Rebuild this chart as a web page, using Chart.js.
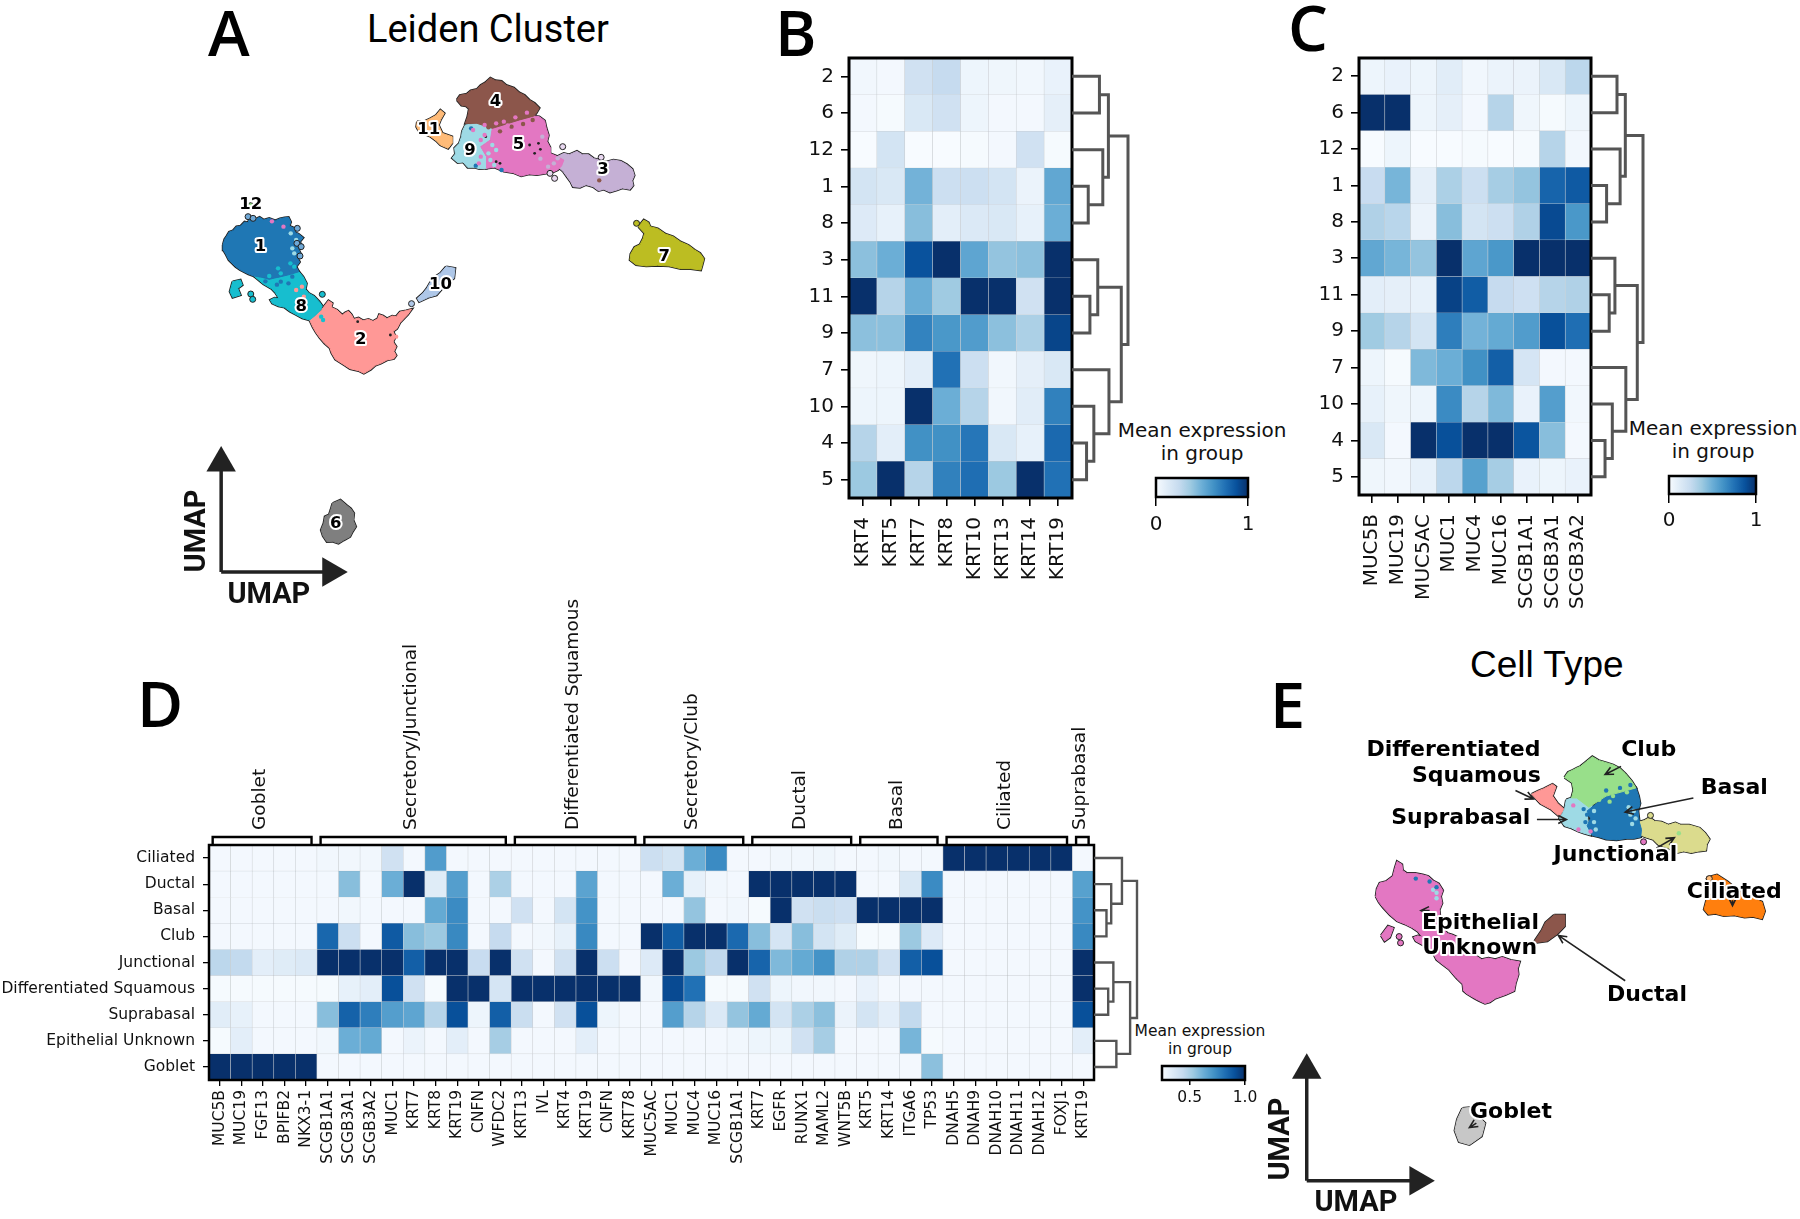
<!DOCTYPE html>
<html>
<head>
<meta charset="utf-8">
<title>Leiden clusters and cell types</title>
<script src="https://cdn.jsdelivr.net/npm/chart.js@4"></script>
<style>
  html, body { margin: 0; background: #fff; }
  #page { position: relative; width: 1800px; height: 1219px; overflow: hidden; background: #fff; }
  #page canvas { position: absolute; }
  .letter { position: absolute; font: 600 63px/63px "Open Sans"; color: #000; }
  .title { position: absolute; color: #000; white-space: nowrap; }
  .cbar { position: absolute; text-align: center; font-family: "DejaVu Sans"; color: #111; white-space: nowrap; transform: translateX(-50%); }
</style>
</head>
<body>
<div id="page">
  <div class="letter" style="left:208px;top:0px">A</div>
  <div class="letter" style="left:775px;top:0px">B</div>
  <div class="letter" style="left:1288px;top:-5px">C</div>
  <div class="letter" style="left:137px;top:671px">D</div>
  <div class="letter" style="left:1270px;top:672px">E</div>
  <div class="title" style="left:367px;top:7px;font:400 38px/44px Roboto">Leiden Cluster</div>
  <div class="title" style="left:1470px;top:643px;font:400 37px/44px 'Liberation Sans'">Cell Type</div>
  <div class="cbar" style="left:1202px;top:419px;font-size:20px;line-height:23px">Mean expression<br>in group</div>
  <div class="cbar" style="left:1713px;top:417px;font-size:20px;line-height:23px">Mean expression<br>in group</div>
  <div class="cbar" style="left:1200px;top:1022px;font-size:15.5px;line-height:18px">Mean expression<br>in group</div>
</div>
<script>
// --- panels B and C
const clusterRows = ["2", "6", "12", "1", "8", "3", "11", "9", "7", "10", "4", "5"];
const krtGenes = ["KRT4", "KRT5", "KRT7", "KRT8", "KRT10", "KRT13", "KRT14", "KRT19"];
const krtValues = [
  [.03, .02, .2, .25, .05, .04, .03, .07],
  [.02, .01, .15, .2, .05, .02, .02, .09],
  [0, .18, 0, 0, .01, .02, .2, .01],
  [.18, .15, .48, .22, .22, .18, .06, .53],
  [.13, .08, .43, .1, .14, .15, .08, .5],
  [.42, .5, .87, 1, .54, .4, .42, 1],
  [1, .3, .5, .37, 1, 1, .2, 1],
  [.42, .42, .68, .6, .58, .42, .33, .92],
  [.04, .05, .1, .75, .22, .03, .09, .15],
  [.05, .05, 1, .5, .3, .03, .11, .69],
  [.3, .1, .63, .63, .73, .15, .08, .78],
  [.38, 1, .3, .69, .76, .38, 1, .75]
];
const mucGenes = ["MUC5B", "MUC19", "MUC5AC", "MUC1", "MUC4", "MUC16", "SCGB1A1", "SCGB3A1", "SCGB3A2"];
const mucValues = [
  [.05, .07, .05, .11, .03, .06, .06, .15, .28],
  [1, 1, .05, .09, .02, .3, .04, .01, .05],
  [0, .05, 0, 0, .01, 0, .01, .3, .03],
  [.24, .47, .09, .33, .22, .35, .4, .8, .84],
  [.32, .29, .06, .43, .18, .22, .32, .9, .6],
  [.53, .47, .4, 1, .54, .6, 1, 1, 1],
  [.1, .09, .08, .93, .83, .25, .21, .3, .32],
  [.37, .3, .18, .7, .48, .52, .58, .88, .76],
  [.05, .01, .45, .5, .63, .82, .17, .02, .02],
  [.08, .04, .05, .65, .3, .45, .07, .57, .03],
  [.15, .02, 1, .88, 1, 1, .86, .43, .02],
  [.04, .03, .08, .28, .56, .35, .07, .05, .07]
];
// dendrograms: [child, child, height], leaves are row numbers, new nodes count on from there
const krtDendro = [[0, 1, .49], [3, 4, .29], [2, 13, .55], [12, 14, .65], [6, 7, .32], [5, 16, .46], [10, 11, .26], [9, 18, .39], [8, 19, .66], [17, 20, .88], [15, 21, 1]];
const mucDendro = [[0, 1, .5], [3, 4, .3], [2, 13, .56], [12, 14, .66], [6, 7, .35], [5, 16, .46], [10, 11, .27], [9, 18, .41], [8, 19, .67], [17, 20, .89], [15, 21, 1]];

// --- panel D
const cellTypes = ["Ciliated", "Ductal", "Basal", "Club", "Junctional", "Differentiated Squamous", "Suprabasal", "Epithelial Unknown", "Goblet"];
const markerGenes = ["MUC5B", "MUC19", "FGF13", "BPIFB2", "NKX3-1",
  "SCGB1A1", "SCGB3A1", "SCGB3A2", "MUC1", "KRT7", "KRT8", "KRT19", "CNFN", "WFDC2",
  "KRT13", "IVL", "KRT4", "KRT19", "CNFN", "KRT78",
  "MUC5AC", "MUC1", "MUC4", "MUC16", "SCGB1A1",
  "KRT7", "EGFR", "RUNX1", "MAML2", "WNT5B",
  "KRT5", "KRT14", "ITGA6", "TP53",
  "DNAH5", "DNAH9", "DNAH10", "DNAH11", "DNAH12", "FOXJ1",
  "KRT19"];
const markerGroups = ["Goblet", "Secretory/Junctional", "Differentiated Squamous", "Secretory/Club", "Ductal", "Basal", "Ciliated", "Suprabasal"];
const markerGroupSizes = [5, 9, 6, 5, 5, 4, 6, 1];
const markerValues = [
  [.02, .02, .02, .02, .02, .03, .03, .03, .2, .02, .58, .02, .02, .02, .02, .02, .02, .02, .02, .02, .22, .18, .5, .65, .02, .02, .03, .03, .04, .02, .02, .03, .02, .02, 1, 1, 1, 1, 1, 1, .02],
  [.02, .02, .02, .02, .02, .02, .43, .02, .5, 1, .12, .57, .02, .33, .02, .02, .02, .55, .02, .02, .02, .5, .08, .03, .02, 1, 1, 1, 1, 1, .02, .02, .15, .65, .02, .02, .02, .02, .02, .02, .56],
  [.02, .02, .02, .02, .02, .02, .03, .02, .02, .02, .52, .65, .02, .02, .2, .02, .18, .62, .02, .02, .02, .02, .4, .02, .03, .01, 1, .2, .23, .21, 1, 1, 1, 1, .02, .02, .02, .02, .02, .02, .62],
  [.02, .02, .02, .02, .02, .79, .22, .02, .84, .43, .38, .66, .02, .25, .02, .03, .08, .66, .02, .02, 1, .83, 1, 1, .78, .43, .17, .43, .18, .12, .01, .01, .38, .13, .02, .02, .02, .02, .02, .02, .66],
  [.28, .26, .1, .12, .14, 1, 1, 1, 1, .82, 1, 1, .24, 1, .2, .02, .2, 1, .22, .02, .13, 1, .38, .27, 1, .8, .45, .52, .62, .32, .32, .2, .82, .88, .02, .02, .02, .02, .02, .02, 1],
  [.01, .01, .01, .01, .01, .01, .08, .1, .88, .2, .01, 1, 1, .17, 1, 1, 1, 1, 1, 1, .03, .9, .75, .01, .01, .2, .05, .03, .03, .02, .07, .02, .02, .02, .02, .02, .02, .02, .02, .02, 1],
  [.11, .08, .02, .02, .02, .43, .81, .7, .57, .54, .3, .88, .05, .82, .23, .02, .2, .88, .05, .02, .02, .57, .3, .14, .4, .52, .18, .33, .42, .06, .18, .1, .26, .02, .02, .02, .02, .02, .02, .02, .88],
  [.01, .1, .02, .02, .02, .03, .5, .52, .02, .06, .02, .1, .02, .35, .02, .02, .02, .1, .02, .02, .02, .02, .02, .02, .03, .05, .05, .2, .35, .02, .02, .02, .47, .01, .02, .02, .02, .02, .02, .02, .1],
  [1, 1, 1, 1, 1, .02, .02, .02, .02, .02, .02, .02, .02, .02, .02, .02, .02, .02, .02, .02, .02, .02, .02, .02, .02, .02, .02, .02, .02, .02, .02, .02, .02, .42, .02, .02, .02, .02, .02, .02, .02]
];
const markerDendro = [[2, 3, .29], [1, 9, .4], [0, 10, .65], [5, 6, .33], [4, 12, .45], [7, 8, .52], [13, 14, .84], [11, 15, 1]];

// --- panel A, UMAP outlines
const cluster1 = [[19, 73.5], [19.4, 71.8], [20, 70.8], [20.6, 69.6], [21.6, 69.2], [22.5, 68], [23.6, 67.8], [24.6, 66.6], [25.5, 66.8], [26, 65.2], [27.3, 65.8], [28.5, 65.2], [29.6, 66], [31, 65.5], [32.6, 66.2], [33.8, 65.6], [35, 65.3], [36, 65.2], [36.6, 66.6], [36.2, 67.8], [37.4, 68.4], [37.8, 69.8], [38.6, 70.2], [39.8, 71.3], [38.9, 72.6], [39.5, 73.7], [38.6, 74.8], [39.2, 76.2], [38.3, 77.4], [38.9, 78.6], [38, 80], [38.7, 81.5], [36.5, 82.3], [34, 83], [32.4, 83.4], [31, 83.8], [29.2, 83.2], [27, 82.8], [25.6, 82.2], [23.5, 81], [22.3, 80], [20.5, 78], [19.8, 76.4], [19.1, 75]];
const cluster8a = [[27, 82.8], [31, 83.8], [34, 83], [38.7, 81.5], [39.8, 83], [40.7, 85], [40.4, 86.8], [41.3, 88], [42.6, 88.8], [44, 90.5], [44.8, 91.8], [44.4, 93], [43, 94.6], [41.5, 96], [39.6, 95.4], [38, 94.4], [36.4, 93.4], [35, 92.2], [33.4, 91.8], [31.8, 91], [31.3, 90], [32.4, 89.4], [33.6, 89.6], [32.6, 87.8], [31.6, 86.6], [29.5, 85.2]];
const cluster8b = [[21.5, 84.5], [23.5, 84], [24, 85.5], [22.8, 86.5], [23.5, 88.5], [21.5, 89.2], [20.8, 87.5]];
const cluster2 = [[41.5, 96], [43, 94.6], [44.6, 93], [45.6, 91.4], [46.4, 90.2], [47.4, 91], [47.1, 92.2], [48.6, 93], [50, 94.5], [50.8, 93.8], [51.6, 93.4], [52.4, 94.4], [53, 95.8], [54.2, 95.4], [55.4, 96.2], [56.8, 95.8], [58, 96.4], [59.2, 95.6], [59.6, 94.4], [60.6, 94.8], [61.6, 95.6], [63, 94.8], [64, 95], [65, 93.6], [66.6, 93.2], [68, 92.8], [67, 94.4], [66, 95.6], [65, 96.8], [64.2, 98.6], [63.2, 99.4], [63.8, 101], [63.2, 102.6], [64, 104], [63.4, 105.4], [64, 106.6], [63.4, 107.6], [61.6, 108], [60, 109], [58.6, 109.6], [57.4, 110.8], [55.6, 112], [54.2, 111.2], [52, 110.6], [50.4, 109.4], [48.2, 107.8], [47.2, 105.8], [46.8, 104.4], [45.4, 103], [44.2, 101.4], [43.2, 99.8], [42.4, 98.2]];
const cluster10 = [[77, 80], [79.3, 80.5], [79, 83.5], [77.6, 84.6], [76, 86.5], [74.5, 88.5], [72.4, 89.2], [70, 90.5], [69.5, 89.5], [71, 88], [72, 86.5], [73.5, 83.5], [75.5, 82]];
const cluster4 = [[79.8, 30], [80.6, 28.6], [82.4, 28.2], [83.4, 27.2], [85, 26.8], [86, 25.6], [87.2, 24.8], [88.5, 23.4], [89.8, 24.2], [91.4, 24.4], [92.6, 25.6], [94.6, 26.4], [96, 27.8], [97.4, 28.6], [98.6, 30], [100, 31], [101.2, 32.4], [100.4, 34], [99.8, 34.8], [96, 36], [89, 38.5], [85, 37], [82, 37], [82.6, 35], [83, 32.6], [82.2, 31.8], [81, 31.6]];
const cluster5 = [[89, 38.5], [96, 36], [99.8, 34.8], [101.2, 35], [102.6, 36.2], [103, 38.4], [103.6, 40.6], [103.2, 42.4], [104, 44.2], [104, 46], [105.6, 46.8], [107.6, 48], [107, 49.8], [106, 51], [104.8, 51.6], [103, 52], [100.6, 52.4], [98.6, 52.2], [96.5, 52.8], [94.4, 51.8], [92, 51.4], [89.6, 50.2], [87.5, 50.5], [87.5, 47], [86, 44], [88.5, 42]];
const cluster9 = [[82, 37.5], [85, 37], [89, 38.5], [88.5, 42], [86, 44], [87.5, 47], [87.5, 50.5], [85.6, 50.6], [84.4, 50.2], [82.6, 50.2], [81.4, 48.6], [80, 48.8], [78.6, 47.4], [79.4, 46.2], [79.2, 44.4], [80.4, 43], [81, 41], [81.2, 39.4]];
const cluster11 = [[69.5, 36.5], [71.4, 36.4], [73, 35.5], [74.4, 34.6], [75.5, 33], [76.5, 34], [75.6, 35.8], [75, 37.5], [76, 40], [78.5, 41], [78.5, 43], [77.5, 44.5], [75.5, 43.5], [74.4, 42.2], [73, 41], [70, 39.5], [69.3, 38]];
const cluster3 = [[104, 46.5], [105.8, 47], [107.6, 46], [109, 46.4], [111, 45.4], [112.4, 46.4], [114, 46.4], [115.4, 47.6], [117, 48], [118.6, 48.6], [120.5, 48], [122.4, 48.4], [124, 49.4], [125.4, 50.8], [125.9, 52.6], [125.3, 54.2], [125.6, 55.6], [124.8, 56.8], [122.8, 56.4], [121.4, 57], [119.6, 57.6], [118, 56.8], [116.6, 57.2], [115.2, 56], [113.4, 55.4], [111.8, 56.2], [110, 56], [109.4, 54.6], [108.4, 53], [107.4, 51.4], [106, 50]];
const cluster7 = [[127, 68], [128.4, 66], [129.6, 66.8], [130, 68], [132, 68.6], [134, 70.2], [136, 71], [138, 72.6], [140, 73.6], [141.6, 75], [143, 76], [144, 77.6], [143.6, 79.4], [143.2, 81], [140.6, 80.6], [138, 80.6], [135, 79.8], [132, 79.6], [129, 79.8], [126.4, 79.4], [124.8, 78], [125, 76.2], [126, 74.2], [127.4, 73.4], [128.2, 71.6], [128.6, 70]];
const cluster6 = [[47.5, 151], [49.5, 150], [51, 151.5], [52.2, 152.6], [53, 154], [52.8, 156], [53.5, 158], [52.6, 159.6], [52, 161], [50.4, 162], [49, 163], [47.4, 162.4], [46, 162.5], [45, 160.8], [44.5, 159], [45.2, 157], [45.5, 155], [46.6, 154.4], [47, 153]];
const cluster1Dots = [[25.5, 65], [26.8, 65.5], [38.2, 73], [39.3, 74], [39, 76.8], [38.3, 68.5]];
const cluster8Dots = [[26.2, 88.2], [26.7, 89.8], [44.8, 88.3]];
const cluster10Dots = [[68, 91.1]];
const cluster3Dots = [[107.3, 44], [117.3, 47.2], [105.2, 53.5], [104, 52]];
const cluster12Dots = [[26.2, 61.7]];
const cluster7Dots = [[126.5, 67]];
// stray cells that sit in a neighbouring cluster
const pinkStrays = [[90, 37], [92, 36.5], [95, 35.2], [98, 33.8], [93, 37.6], [87, 37.5], [86, 47], [86, 42], [85.5, 49], [87, 40.5], [84, 39], [31.7, 66.4], [34.7, 68]];
const brownStrays = [[91, 39.4], [94, 38], [97, 37.2], [99.5, 36], [116.8, 54.1], [88, 38.2]];
const paleBlueStrays = [[88, 46], [89, 43.5], [88.5, 48], [90, 45], [89.5, 49.5], [38, 72], [37.5, 76], [37, 74.5], [36.6, 70]];
const blueStrays = [[83.5, 38.5], [84.7, 49.7], [91.4, 51], [30, 84.4], [34, 84.5], [37, 83], [33, 85.4], [36, 85]];
const tealStrays = [[34, 82], [31, 82.8], [37.5, 80], [36.5, 79], [33.3, 80.5], [44.5, 95], [45, 96]];
const salmonStrays = [[39.5, 86], [40, 89], [38, 87], [64, 101]];
const lilacStrays = [[105, 49], [106, 47.5], [103.5, 50], [101.5, 47.6], [102, 41]];
const holes = [[98.7, 43.5], [101, 43], [100, 46], [101.5, 44.8], [91, 49], [90, 48.5], [87.3, 41], [62.5, 100.5], [54, 96.5]];
const leidenLabels = ["1", "2", "3", "4", "5", "6", "7", "8", "9", "10", "11", "12"];
const leidenLabelPos = [[28.7, 74], [54.8, 102], [117.8, 50.8], [89.8, 30.5], [95.8, 43.3], [48.3, 157], [133.7, 77], [39.3, 92], [83.2, 45.2], [75.5, 85.5], [72.5, 39], [26.2, 61.5]];

// --- panel E
const clubShape = [[88, 37], [89, 35.6], [90.4, 35], [91.6, 34.4], [92.6, 34], [94.4, 32.6], [96, 31.4], [97.8, 32.4], [100, 33], [102, 33.6], [104, 34.6], [105.6, 36], [107.4, 38], [108.6, 39.8], [104, 41], [100, 42], [95, 45], [91.5, 42.5], [90, 42.5], [90.6, 40.4], [90.2, 38.4]];
const basalShape = [[94.5, 46], [100, 42], [104, 41], [108.6, 39.8], [109.4, 42], [109.8, 44], [109.2, 46], [109.6, 49], [110.2, 51], [110, 53], [108, 53.4], [106, 53.4], [103, 53.8], [100, 53.6], [98, 53], [96, 52.6], [94.5, 50], [95.5, 48]];
const suprabasalShape = [[88.5, 43], [91.5, 42], [94.5, 44], [96, 44.5], [94.5, 47], [95, 50], [95.5, 52.5], [93.6, 52], [92, 51.5], [90, 50.6], [88, 50], [86.5, 48], [87.4, 46.6], [88, 45.5]];
const squamousShape = [[78.5, 41.5], [80.4, 40.6], [82, 40], [84.5, 38.8], [85.5, 39.5], [84.5, 42], [86, 44], [87.8, 45.5], [86.5, 47.5], [84, 45.5], [81, 44]];
const junctionalShape = [[109.5, 49], [111, 48.6], [112.5, 47.8], [114, 48.8], [116, 49], [118, 49.8], [120, 49.2], [121.5, 49.8], [124, 49.8], [127, 50.6], [128.6, 52], [129.8, 53.6], [129, 55], [128.8, 56.6], [126.8, 56.8], [124.6, 57.2], [122.4, 56.8], [120.5, 57.2], [118, 56], [115, 55], [113.5, 53.6], [111.4, 53], [110, 52.5]];
const ciliatedShape = [[129, 64], [132, 63.2], [135, 65], [139, 68], [145, 70.5], [145.8, 73], [145, 75], [142.4, 74.4], [140, 74.6], [137, 74], [134, 74.2], [131.6, 73.6], [129.5, 73.8], [128.3, 72.5], [129, 70], [131, 68], [130, 66]];
const epithelialShape = [[33.5, 69], [33.8, 67], [34.6, 65.4], [36.4, 65], [38.4, 63.6], [39, 61.4], [39.6, 59.6], [41, 60.4], [41.2, 62], [42.4, 62.8], [44.8, 62.8], [47, 63.2], [48.6, 63.6], [50, 64.8], [51.6, 65.6], [52.8, 67.4], [52.2, 69], [52.6, 70.8], [51.8, 72.6], [52, 74.4], [52, 76], [53, 77.8], [54.2, 79], [55.6, 79.4], [57, 80], [58, 81.6], [59, 83], [61.4, 84.4], [64, 86], [66, 85.6], [68, 86], [70, 85.4], [72.4, 86.2], [75, 86.6], [74.4, 88.4], [74.6, 90], [73.8, 92.4], [73.4, 94.4], [71, 95.4], [68, 96.4], [66.4, 97.4], [65, 97.8], [63.2, 97], [62, 96.4], [59.8, 95.2], [58.8, 94.4], [58.6, 92.6], [56.8, 91], [54.6, 88.6], [52.6, 87.2], [51, 86], [50, 84.2], [49, 83], [47, 82], [45, 81], [44.4, 80], [45.6, 79.6], [47, 80], [45.6, 78.4], [44, 77.4], [41.8, 76.4], [39.6, 75.6], [37.6, 74], [35.6, 72], [34.4, 70.6]];
const epithelialBlob = [[35, 79.5], [37, 77], [38.5, 77.5], [37.5, 80], [36, 81]];
const ductalShape = [[85, 74], [88, 74], [88, 77], [86, 79], [83, 81], [79, 81.5], [81.5, 78], [82.5, 76]];
const gobletShape = [[58.5, 126], [60.5, 125.8], [65, 130], [64, 133.5], [60.5, 135.8], [57.5, 135], [56.3, 132], [57, 129]];
const epithelialDots = [[40.2, 79.8], [40.6, 81.5]];
const ciliatedDots = [[129.8, 64.2]];
const junctionalDots = [[112.8, 47.2]];
const basalDots = [[110.8, 54.3]];
const typeBlueStrays = [[94.5, 47], [94, 49], [93.5, 45.5], [100, 40.5], [104, 39.8], [107, 39], [49, 65], [45, 64.2], [51, 66.5]];
const typeGreenStrays = [[98, 43], [102, 42], [106, 41], [101, 43.5], [121, 52]];
const typePaleStrays = [[96.5, 46], [96.5, 49], [97, 51], [107, 47], [108, 46], [108.5, 48], [107.5, 49.5], [106.5, 45], [51, 68], [51, 69.5], [50, 67.2]];
const typePinkStrays = [[90.5, 44.5], [92, 51], [95.5, 51.5]];
const cellTypeLabels = ["Differentiated", "Squamous", "Club", "Basal", "Suprabasal", "Junctional", "Ciliated", "Epithelial", "Unknown", "Ductal", "Goblet"];
const cellTypeLabelPos = [[55.9, 29.7], [62.5, 36.6], [112.3, 29.8], [137, 39.8], [58, 48], [102.7, 58], [137, 68], [63.7, 76.3], [63.5, 83], [111.8, 95.5], [72.5, 127.2]];
// pointer lines: [fromX, fromY, toX, toY]
const cellTypePointers = [[104.3, 34, 99.7, 36.2], [125.2, 42.5, 105.5, 46.3], [73.8, 40.5, 79, 42.8], [80, 48.3, 88.5, 48.3], [114.5, 56, 119.7, 53.2], [136.5, 70, 136.5, 71.5], [49, 72.8, 46.5, 72.8], [105.5, 91.7, 86.2, 79.5], [62.5, 130, 60.5, 131.2]];

const bluesStops = ["#f7fbff", "#deebf7", "#c6dbef", "#9ecae1", "#6baed6", "#4292c6", "#2171b5", "#08519c", "#08306b"];

Chart.defaults.font.family = "'DejaVu Sans'";
Chart.defaults.color = "#111";
Chart.defaults.animation = false;
Chart.defaults.responsive = false;
Chart.defaults.layout.autoPadding = false;
Chart.defaults.plugins.legend.display = false;
Chart.defaults.plugins.tooltip.enabled = false;

function blues(v) {
  const p = Math.min(Math.max(v, 0), 1) * (bluesStops.length - 1);
  const i = Math.min(Math.floor(p), bluesStops.length - 2);
  const c = s => [1, 3, 5].map(k => parseInt(s.substr(k, 2), 16));
  const a = c(bluesStops[i]), b = c(bluesStops[i + 1]);
  return "rgb(" + a.map((x, k) => Math.round(x + (b[k] - x) * (p - i))).join(",") + ")";
}

function addCanvas(left, top, width, height) {
  const cv = document.createElement("canvas");
  cv.width = width;
  cv.height = height;
  cv.style.left = left + "px";
  cv.style.top = top + "px";
  document.getElementById("page").appendChild(cv);
  return cv;
}

const framePlugin = width => ({
  id: "frame",
  afterDraw(chart) {
    const a = chart.chartArea, ctx = chart.ctx;
    ctx.save();
    ctx.strokeStyle = "#000";
    ctx.lineWidth = width;
    ctx.strokeRect(a.left, a.top, a.right - a.left, a.bottom - a.top);
    ctx.restore();
  }
});

// box = reference pixels of the plot frame, extra plugins get added on
function heatmap(box, padLeft, padTop, padBottom, rows, cols, values, fonts, plugins) {
  const padRight = 6;
  const cv = addCanvas(box.left - padLeft, box.top - padTop, box.right - box.left + padLeft + padRight, box.bottom - box.top + padTop + padBottom);
  return new Chart(cv, {
    type: "bar",
    data: {
      labels: cols,
      datasets: rows.map((r, i) => ({
        label: r,
        data: values[i].map(() => 1),
        backgroundColor: values[i].map(blues),
        borderColor: "rgba(120,130,140,0.28)",
        borderWidth: 0.6,
        barPercentage: 1,
        categoryPercentage: 1
      }))
    },
    options: {
      layout: { padding: { left: 0, right: padRight, top: padTop, bottom: 0 } },
      scales: {
        x: {
          stacked: true,
          grid: { offset: false, drawOnChartArea: false, color: "#000", lineWidth: fonts.tick, tickLength: fonts.tickLen },
          border: { display: false },
          ticks: { autoSkip: false, minRotation: 90, maxRotation: 90, padding: fonts.xPad, font: { size: fonts.x } },
          afterFit(s) { s.height = padBottom; s.paddingLeft = 0; s.paddingRight = 0; }
        },
        y: {
          stacked: true, reverse: true, min: 0, max: rows.length,
          grid: { drawOnChartArea: false, color: "#000", lineWidth: fonts.tick, tickLength: fonts.tickLen },
          border: { display: false },
          afterBuildTicks(s) { s.ticks = rows.map((_, i) => ({ value: i + 0.5 })); },
          ticks: { autoSkip: false, padding: fonts.yPad, font: { size: fonts.y }, callback: v => rows[v - 0.5] },
          afterFit(s) { s.width = padLeft; s.paddingTop = 0; s.paddingBottom = 0; }
        }
      }
    },
    plugins: [framePlugin(fonts.frame)].concat(plugins || [])
  });
}

function dendrogram(box, nRows, merges, lineWidth) {
  const pad = 4;
  const cv = addCanvas(box.left, box.top - pad, box.right - box.left + pad, box.bottom - box.top + 2 * pad);
  const spot = [];
  for (let i = 0; i < nRows; i++) spot.push({ y: i + 0.5, h: 0 });
  const datasets = merges.map(([a, b, h]) => {
    const p = spot[a], q = spot[b];
    spot.push({ y: (p.y + q.y) / 2, h });
    return {
      data: [{ x: p.h, y: p.y }, { x: h, y: p.y }, { x: h, y: q.y }, { x: q.h, y: q.y }],
      showLine: true, borderColor: "#555", borderWidth: lineWidth, pointRadius: 0, clip: false
    };
  });
  return new Chart(cv, {
    type: "scatter",
    data: { datasets },
    options: {
      layout: { padding: { top: pad, bottom: pad, right: pad } },
      scales: {
        x: { display: false, min: 0, max: 1 },
        y: { display: false, reverse: true, min: 0, max: nRows }
      }
    }
  });
}

function colorbar(box, min, max, tickValues, size, labelFmt, tickLen, tickPad) {
  const pad = 30;
  const below = 50;
  const cv = addCanvas(box.left - pad, box.top - 3, box.right - box.left + 2 * pad, box.bottom - box.top + below);
  return new Chart(cv, {
    type: "bar",
    data: {
      labels: [""],
      datasets: [{
        data: [[min, max]],
        barPercentage: 1, categoryPercentage: 1,
        backgroundColor(c) {
          const a = c.chart.chartArea;
          if (!a) return bluesStops[4];
          const g = c.chart.ctx.createLinearGradient(a.left, 0, a.right, 0);
          bluesStops.forEach((col, i) => g.addColorStop(i / (bluesStops.length - 1), col));
          return g;
        }
      }]
    },
    options: {
      indexAxis: "y",
      layout: { padding: { left: pad, right: pad, top: 3 } },
      scales: {
        x: {
          min, max,
          grid: { drawOnChartArea: false, color: "#000", lineWidth: 1.5, tickLength: tickLen },
          border: { display: false },
          afterBuildTicks(s) { s.ticks = tickValues.map(v => ({ value: v })); },
          ticks: { padding: tickPad, maxRotation: 0, autoSkip: false, font: { size }, callback: labelFmt },
          afterFit(s) { s.height = below - 3; s.paddingLeft = 0; s.paddingRight = 0; }
        },
        y: { display: false }
      }
    },
    plugins: [framePlugin(2.5)]
  });
}

// filled outlines: black edge layer under a borderless colour layer, so touching clusters show no seam
function umap(left, top, width, height, xMax, yMax, shapes, dots, strays, axisArrows, annotate) {
  const cv = addCanvas(left, top, width, height);
  const pts = list => list.map(([x, y]) => ({ x, y }));
  const datasets = [];
  shapes.forEach(s => {
    const ring = pts(s.points.concat([s.points[0]]));
    datasets.push({ data: ring, showLine: true, fill: false, borderColor: "#222", borderWidth: 2.6, pointRadius: 0, order: 6, clip: false });
    datasets.push({ data: ring, showLine: true, fill: "shape", backgroundColor: s.color, borderColor: s.color, borderWidth: 1, pointRadius: 0, order: 5, clip: false });
  });
  strays.forEach(d => {
    datasets.push({ data: pts(d.points), pointRadius: d.radius, pointBackgroundColor: d.color, pointBorderWidth: 0, order: 4 });
  });
  dots.forEach(d => {
    datasets.push({ data: pts(d.points), pointRadius: 3, pointBackgroundColor: d.color, pointBorderColor: "#222", pointBorderWidth: 1, order: 3 });
  });
  axisArrows.forEach(a => {
    datasets.push({
      data: pts([a.from, a.to]), showLine: true, borderColor: "#222", borderWidth: 3.5,
      pointRadius: [0, 17], pointStyle: "triangle", pointRotation: a.rotation, pointBackgroundColor: "#222", pointBorderWidth: 0, order: 2, clip: false
    });
  });
  return new Chart(cv, {
    type: "scatter",
    data: { datasets },
    options: {
      scales: {
        x: { display: false, min: 0, max: xMax },
        y: { display: false, min: 0, max: yMax, reverse: true }
      }
    },
    plugins: [annotate]
  });
}

function drawPointers(chart, pointers) {
  const ctx = chart.ctx, sx = chart.scales.x, sy = chart.scales.y;
  ctx.save();
  ctx.strokeStyle = "#222";
  ctx.lineWidth = 1.6;
  pointers.forEach(([x0, y0, x1, y1]) => {
    const a = sx.getPixelForValue(x0), b = sy.getPixelForValue(y0);
    const c = sx.getPixelForValue(x1), d = sy.getPixelForValue(y1);
    const t = Math.atan2(d - b, c - a), r = 9;
    ctx.beginPath();
    ctx.moveTo(a, b);
    ctx.lineTo(c, d);
    ctx.moveTo(c - r * Math.cos(t - 0.45), d - r * Math.sin(t - 0.45));
    ctx.lineTo(c, d);
    ctx.lineTo(c - r * Math.cos(t + 0.45), d - r * Math.sin(t + 0.45));
    ctx.stroke();
  });
  ctx.restore();
}

function drawLabels(chart, labels, positions, font, halo) {
  const ctx = chart.ctx, sx = chart.scales.x, sy = chart.scales.y;
  ctx.save();
  ctx.font = font;
  ctx.textAlign = "center";
  ctx.textBaseline = "middle";
  ctx.lineJoin = "round";
  labels.forEach((t, i) => {
    const x = sx.getPixelForValue(positions[i][0]), y = sy.getPixelForValue(positions[i][1]);
    ctx.strokeStyle = "#fff";
    ctx.lineWidth = halo;
    ctx.strokeText(t, x, y);
    ctx.fillStyle = "#000";
    ctx.fillText(t, x, y);
  });
  ctx.restore();
}

function drawUmapWords(chart, horizontal, vertical) {
  const ctx = chart.ctx, sx = chart.scales.x, sy = chart.scales.y;
  ctx.save();
  ctx.font = "700 29px Roboto";
  ctx.fillStyle = "#111";
  ctx.textAlign = "center";
  ctx.textBaseline = "middle";
  ctx.fillText("UMAP", sx.getPixelForValue(horizontal[0]), sy.getPixelForValue(horizontal[1]));
  ctx.translate(sx.getPixelForValue(vertical[0]), sy.getPixelForValue(vertical[1]));
  ctx.rotate(-Math.PI / 2);
  ctx.fillText("UMAP", 0, 0);
  ctx.restore();
}

// --- B and C
const bigFonts = { x: 20, y: 20, tick: 1.6, tickLen: 8, xPad: 11, yPad: 7, frame: 3 };
heatmap({ left: 849, top: 57.5, right: 1072, bottom: 497.5 }, 72, 8, 120, clusterRows, krtGenes, krtValues, bigFonts);
dendrogram({ left: 1072, top: 57.5, right: 1128, bottom: 497.5 }, clusterRows.length, krtDendro, 3);
colorbar({ left: 1156, top: 478, right: 1248, bottom: 497 }, 0, 1, [0, 1], 20, v => String(v), 9, 7);

heatmap({ left: 1359, top: 58, right: 1591, bottom: 495.5 }, 72, 8, 122, clusterRows, mucGenes, mucValues, bigFonts);
dendrogram({ left: 1591, top: 58, right: 1643, bottom: 495.5 }, clusterRows.length, mucDendro, 3);
colorbar({ left: 1669, top: 476, right: 1756, bottom: 494 }, 0, 1, [0, 1], 20, v => String(v), 9, 6);

// --- D
const groupBrackets = {
  id: "groupBrackets",
  afterDraw(chart) {
    const ctx = chart.ctx, sx = chart.scales.x, top = chart.chartArea.top;
    const w = sx.getPixelForValue(1) - sx.getPixelForValue(0);
    let start = 0;
    ctx.save();
    markerGroups.forEach((name, i) => {
      const end = start + markerGroupSizes[i] - 1;
      const x0 = sx.getPixelForValue(start) - 0.33 * w, x1 = sx.getPixelForValue(end) + 0.25 * w;
      ctx.strokeStyle = "#000";
      ctx.lineWidth = 2.4;
      ctx.beginPath();
      ctx.moveTo(x0, top);
      ctx.lineTo(x0, top - 8);
      ctx.lineTo(x1, top - 8);
      ctx.lineTo(x1, top);
      ctx.stroke();
      ctx.save();
      ctx.translate((x0 + x1) / 2 - 2, top - 15);
      ctx.rotate(-Math.PI / 2);
      ctx.font = "18.5px 'DejaVu Sans'";
      ctx.fillStyle = "#111";
      ctx.textAlign = "left";
      ctx.textBaseline = "middle";
      ctx.fillText(name, 0, 0);
      ctx.restore();
      start = end + 1;
    });
    ctx.restore();
  }
};
heatmap({ left: 209, top: 845, right: 1094, bottom: 1080 }, 209, 250, 90, cellTypes, markerGenes, markerValues,
  { x: 15.5, y: 15.5, tick: 1.3, tickLen: 6, xPad: 4, yPad: 8, frame: 2.5 }, [groupBrackets]);
dendrogram({ left: 1094, top: 845, right: 1137, bottom: 1080 }, cellTypes.length, markerDendro, 2.4);
colorbar({ left: 1162, top: 1066, right: 1245, bottom: 1080 }, 0.25, 1, [0.5, 1], 15.5, v => v.toFixed(1), 5, 4);

// --- A
umap(150, 0, 600, 620, 156, 186, [
  { points: cluster1, color: "#1f77b4" }, { points: cluster8a, color: "#17becf" }, { points: cluster8b, color: "#17becf" },
  { points: cluster2, color: "#ff9896" }, { points: cluster10, color: "#aec7e8" }, { points: cluster4, color: "#8c564b" },
  { points: cluster5, color: "#e377c2" }, { points: cluster9, color: "#9edae5" }, { points: cluster11, color: "#ffbb78" },
  { points: cluster3, color: "#c5b0d5" }, { points: cluster7, color: "#bcbd22" }, { points: cluster6, color: "#7f7f7f" }
], [
  { points: cluster1Dots, color: "#6fa8d6" }, { points: cluster8Dots, color: "#17becf" }, { points: cluster10Dots, color: "#aec7e8" },
  { points: cluster3Dots, color: "#e8d8f0" }, { points: cluster12Dots, color: "#98df8a" }, { points: cluster7Dots, color: "#bcbd22" }
], [
  { points: pinkStrays, color: "#e377c2", radius: 2.2 }, { points: brownStrays, color: "#8c564b", radius: 2.2 },
  { points: paleBlueStrays, color: "#9edae5", radius: 2.2 }, { points: blueStrays, color: "#1f77b4", radius: 2.2 },
  { points: tealStrays, color: "#17becf", radius: 2.2 }, { points: salmonStrays, color: "#ff9896", radius: 2.2 },
  { points: lilacStrays, color: "#c5b0d5", radius: 2.2 }, { points: holes, color: "#222", radius: 1.4 }
], [
  { from: [18.5, 171.6], to: [18.5, 138.9], rotation: 0 },
  { from: [18.5, 171.6], to: [47, 171.6], rotation: 90 }
], {
  id: "leidenText",
  afterDatasetsDraw(chart) {
    drawLabels(chart, leidenLabels, leidenLabelPos, "700 16.5px 'DejaVu Sans'", 4);
    drawUmapWords(chart, [30.9, 178.8], [12.5, 159.3]);
  }
});

// --- E
umap(1260, 640, 540, 579, 156, 155.8, [
  { points: clubShape, color: "#98df8a" }, { points: basalShape, color: "#1f77b4" }, { points: suprabasalShape, color: "#9edae5" },
  { points: squamousShape, color: "#ff9896" }, { points: junctionalShape, color: "#dbdb8d" }, { points: ciliatedShape, color: "#ff7f0e" },
  { points: epithelialShape, color: "#e377c2" }, { points: epithelialBlob, color: "#e377c2" }, { points: ductalShape, color: "#8c564b" },
  { points: gobletShape, color: "#c7c7c7" }
], [
  { points: epithelialDots, color: "#e377c2" }, { points: ciliatedDots, color: "#ffbb78" },
  { points: junctionalDots, color: "#dbdb8d" }, { points: basalDots, color: "#e377c2" }
], [
  { points: typeBlueStrays, color: "#1f77b4", radius: 2.2 }, { points: typeGreenStrays, color: "#98df8a", radius: 2.2 },
  { points: typePaleStrays, color: "#9edae5", radius: 2.2 }, { points: typePinkStrays, color: "#e377c2", radius: 2.2 }
], [
  { from: [13.5, 145.5], to: [13.5, 115.8], rotation: 0 },
  { from: [13.5, 145.5], to: [45.6, 145.5], rotation: 90 }
], {
  id: "cellTypeText",
  afterDatasetsDraw(chart) {
    drawPointers(chart, cellTypePointers);
    drawLabels(chart, cellTypeLabels, cellTypeLabelPos, "700 22px 'DejaVu Sans'", 4);
    drawUmapWords(chart, [27.7, 151.8], [6.3, 134.3]);
  }
});
</script>
</body>
</html>
